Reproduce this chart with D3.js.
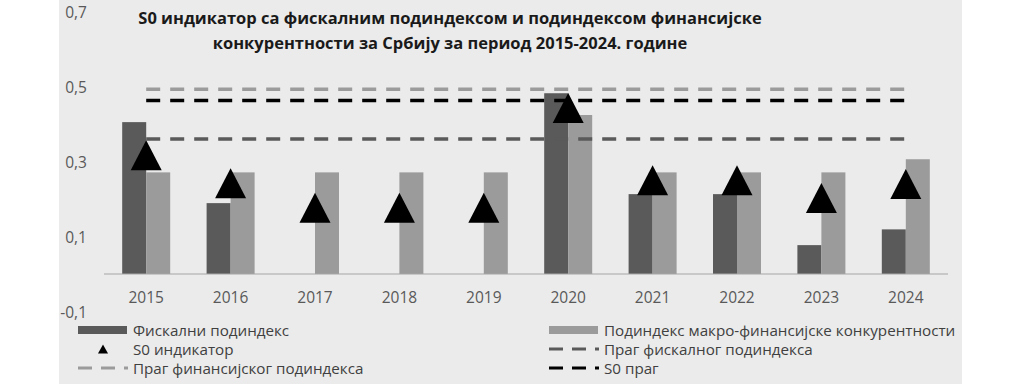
<!DOCTYPE html>
<html>
<head>
<meta charset="utf-8">
<script src="https://cdn.jsdelivr.net/npm/d3@7"></script>
<style>
  body { margin: 0; background: #ffffff; }
  text { font-family: "Open Sans", sans-serif; }
</style>
</head>
<body>
<div class="chart"></div>
<script>
var svgWidth = 1021;
var svgHeight = 384;

// data
var years = ["2015", "2016", "2017", "2018", "2019", "2020", "2021", "2022", "2023", "2024"];
var fiscalSub = [0.405, 0.189, 0, 0, 0, 0.482, 0.213, 0.213, 0.077, 0.119];
var financeSub = [0.271, 0.271, 0.271, 0.271, 0.271, 0.424, 0.271, 0.271, 0.271, 0.306];
var s0Indicator = [0.317, 0.242, 0.177, 0.177, 0.177, 0.443, 0.25, 0.25, 0.203, 0.24];
var finThreshold = 0.493;
var fiscalThreshold = 0.36;
var s0Threshold = 0.463;
var yTicks = [-0.1, 0.1, 0.3, 0.5, 0.7];

var titleLines = [
  "S0 индикатор са фискалним подиндексом и подиндексом финансијске",
  "конкурентности за Србију за период 2015-2024. године"
];

var svg = d3.select(".chart")
  .append("svg")
  .attr("width", svgWidth)
  .attr("height", svgHeight);

// light grey chart background
svg.append("rect")
  .attr("x", 59).attr("y", 0)
  .attr("width", 903).attr("height", svgHeight)
  .attr("fill", "#ebebeb");

var xScale = d3.scaleBand().domain(years).range([104, 948]);
var xSub = d3.scaleBand().domain(["fiscal", "finance"]).range([0, 48]);
var yScale = d3.scaleLinear().domain([-0.1, 0.7]).range([311.5, 11.5]);

var barOffset = (xScale.bandwidth() - 48) / 2;
function cx(d) { return xScale(d) + xScale.bandwidth() / 2; }

// y tick labels (comma decimal, plain hyphen)
svg.selectAll(".ytick")
  .data(yTicks)
  .enter().append("text")
    .attr("x", 87)
    .attr("y", function(d) { return yScale(d); })
    .attr("text-anchor", "end")
    .attr("dominant-baseline", "central")
    .style("font-size", "15.5px")
    .style("fill", "#595959")
    .text(function(d) { return d3.format(".1f")(d).replace(".", ",").replace("\u2212", "-"); });

// bars
var barData = years.map(function(y, i) {
  return [{ year: y, key: "fiscal", value: fiscalSub[i] },
          { year: y, key: "finance", value: financeSub[i] }];
});
svg.selectAll(".yr")
  .data(barData)
  .enter().append("g")
  .selectAll("rect")
  .data(function(d) { return d; })
  .enter().append("rect")
    .attr("x", function(d) { return xScale(d.year) + barOffset + xSub(d.key); })
    .attr("y", function(d) { return yScale(d.value); })
    .attr("width", xSub.bandwidth())
    .attr("height", function(d) { return yScale(0) - yScale(d.value); })
    .attr("fill", function(d) { return d.key == "fiscal" ? "#5a5a5a" : "#9b9b9b"; });

// x axis line
svg.append("line")
  .attr("x1", 104).attr("x2", 948)
  .attr("y1", yScale(0)).attr("y2", yScale(0))
  .attr("stroke", "#a6a6a6").attr("stroke-width", 1.2);

// x labels
svg.selectAll(".xtick")
  .data(years)
  .enter().append("text")
    .attr("x", cx)
    .attr("y", 297)
    .attr("text-anchor", "middle")
    .attr("dominant-baseline", "central")
    .style("font-size", "15.5px")
    .style("fill", "#595959")
    .text(function(d) { return d; });

// threshold lines
var thresholds = [
  { value: fiscalThreshold, color: "#5a5a5a", w: 3.5 },
  { value: finThreshold, color: "#9b9b9b", w: 3.5 },
  { value: s0Threshold, color: "#000000", w: 3.5 }
];
var line = d3.line()
  .x(function(d) { return cx(d[0]); })
  .y(function(d) { return yScale(d[1]); });
thresholds.forEach(function(t) {
  svg.append("path")
    .datum(years.map(function(y) { return [y, t.value]; }))
    .attr("d", line)
    .attr("fill", "none")
    .attr("stroke", t.color)
    .attr("stroke-width", t.w)
    .attr("stroke-dasharray", "14,10");
});

// S0 triangles
var tri = "M0,-15L15.5,15L-15.5,15Z";
svg.selectAll(".s0")
  .data(s0Indicator)
  .enter().append("path")
    .attr("d", tri)
    .attr("transform", function(d, i) {
      return "translate(" + cx(years[i]) + "," + yScale(d) + ")";
    })
    .attr("fill", "#000000");

// title
svg.selectAll(".title")
  .data(titleLines)
  .enter().append("text")
    .attr("x", 450)
    .attr("y", function(d, i) { return 24 + i * 25; })
    .attr("text-anchor", "middle")
    .style("font-size", "16.5px")
    .style("font-weight", "bold")
    .style("fill", "#1a1a1a")
    .text(function(d) { return d; });

// legend
var legendItems = [
  { label: "Фискални подиндекс", type: "bar", color: "#5a5a5a", x: 78, y: 330 },
  { label: "Подиндекс макро-финансијске конкурентности", type: "bar", color: "#9b9b9b", x: 549, y: 330 },
  { label: "S0 индикатор", type: "tri", color: "#000000", x: 78, y: 349 },
  { label: "Праг фискалног подиндекса", type: "dash", color: "#5a5a5a", x: 549, y: 349 },
  { label: "Праг финансијског подиндекса", type: "dash", color: "#9b9b9b", x: 78, y: 368 },
  { label: "S0 праг", type: "dash", color: "#000000", x: 549, y: 368 }
];
var legend = svg.selectAll(".legend")
  .data(legendItems)
  .enter().append("g")
    .attr("transform", function(d) { return "translate(" + d.x + "," + d.y + ")"; });

legend.each(function(d) {
  var g = d3.select(this);
  if (d.type == "bar") {
    g.append("rect").attr("x", 0).attr("y", -4).attr("width", 49).attr("height", 8).attr("fill", d.color);
  } else if (d.type == "tri") {
    g.append("path").attr("d", "M25,-4.5L30,4.5L20,4.5Z").attr("fill", d.color);
  } else {
    g.append("line").attr("x1", 0).attr("x2", 50).attr("y1", 0).attr("y2", 0)
      .attr("stroke", d.color).attr("stroke-width", 3).attr("stroke-dasharray", "14,9");
  }
  g.append("text")
    .attr("x", 55)
    .attr("y", 0)
    .attr("dominant-baseline", "central")
    .style("font-size", "15.2px")
    .style("fill", "#404040")
    .text(d.label);
});
</script>
</body>
</html>
